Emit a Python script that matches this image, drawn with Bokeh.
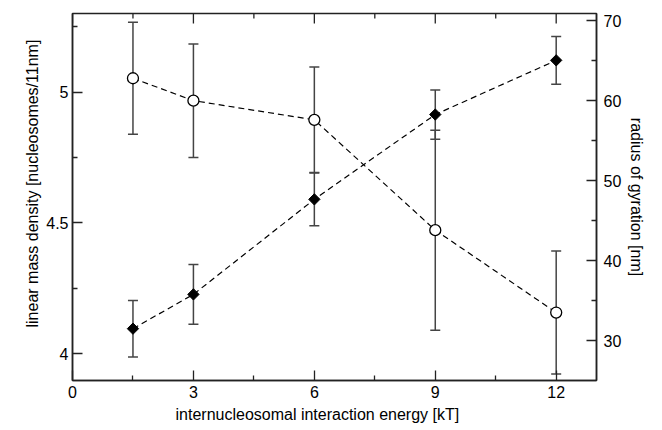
import numpy as np
from bokeh.plotting import figure
from bokeh.models import (LinearAxis, Range1d, ColumnDataSource, Whisker, TeeHead,
                          FixedTicker, Title)
from bokeh.embed import file_html
from bokeh.resources import INLINE

# ---- data ----
energy = [1.5, 3, 6, 9, 12]
density = [4.096, 4.227, 4.590, 4.914, 5.121]
density_err = [0.108, 0.114, 0.101, 0.094, 0.091]
rg = [62.8, 60.0, 57.6, 43.8, 33.5]
rg_err = [7.0, 7.1, 6.6, 12.5, 7.7]

x_ticks = [0, 3, 6, 9, 12]
x_minor = [1.5, 4.5, 7.5, 10.5]
left_ticks = [4, 4.5, 5]
left_minor = [4.25, 4.75, 5.25]
right_ticks = [30, 40, 50, 60, 70]
right_minor = [35, 45, 55, 65]

x_title = "internucleosomal interaction energy [kT]"
left_title = "linear mass density [nucleosomes/11nm]"
right_title = "radius of gyration [nm]"

FONT = "Liberation Sans"
AX = "#222222"

p = figure(width=662, height=430, output_backend="svg", toolbar_location=None,
           x_range=Range1d(0, 13), y_range=Range1d(3.898, 5.30),
           x_axis_location=None, y_axis_location=None)
p.extra_y_ranges = {"right": Range1d(25.0, 70.9), "px": Range1d(0, 367)}
p.min_border_left = 72
p.min_border_right = 66
p.min_border_top = 13
p.min_border_bottom = 50
p.grid.visible = False
p.outline_line_color = AX
p.outline_line_width = 1.5
p.background_fill_color = "white"
p.border_fill_color = "white"


def style(ax, ticks, minor):
    ax.ticker = FixedTicker(ticks=ticks, minor_ticks=minor)
    ax.major_tick_in = 10
    ax.major_tick_out = 0
    ax.minor_tick_in = 5
    ax.minor_tick_out = 0
    ax.axis_line_color = AX
    ax.axis_line_width = 1.5
    ax.major_tick_line_color = AX
    ax.minor_tick_line_color = AX
    ax.major_tick_line_width = 1.3
    ax.minor_tick_line_width = 1.3
    ax.major_label_text_font = FONT
    ax.major_label_text_font_size = "16px"
    ax.major_label_text_color = "black"


bottom = LinearAxis()
style(bottom, x_ticks, x_minor)
bottom.major_label_standoff = 5
p.add_layout(bottom, "below")

left = LinearAxis()
style(left, left_ticks, left_minor)
left.major_label_standoff = 4
left.major_label_overrides = {4: "4", 5: "5"}
p.add_layout(left, "left")

right = LinearAxis(y_range_name="right")
style(right, right_ticks, right_minor)
right.major_label_standoff = 7
p.add_layout(right, "right")

# axis titles (centred on the tick span, as in the reference)
t_kw = dict(text_font=FONT, text_font_size="16px", text_font_style="normal",
            text_color="black")
p.add_layout(Title(text=x_title, align="left", offset=103, standoff=6, **t_kw), "below")
p.add_layout(Title(text=left_title, align="left", offset=53, standoff=6, **t_kw), "left")
p.add_layout(Title(text=right_title, align="center", standoff=6, **t_kw), "right")

# top mirrored ticks (px range: frame height in pixels)
top_x = x_ticks + x_minor
top_len = [10] * len(x_ticks) + [5] * len(x_minor)
p.segment(x0=top_x, x1=top_x, y0=[367] * len(top_x),
          y1=[367 - l for l in top_len], y_range_name="px",
          line_color=AX, line_width=1.3)

# ---- sources ----
d_src = ColumnDataSource(dict(
    x=energy, y=density,
    lo=[v - e for v, e in zip(density, density_err)],
    hi=[v + e for v, e in zip(density, density_err)]))
r_src = ColumnDataSource(dict(
    x=energy, y=rg,
    lo=[v - e for v, e in zip(rg, rg_err)],
    hi=[v + e for v, e in zip(rg, rg_err)]))

err_color = "#444444"
for src, rng in ((d_src, "default"), (r_src, "right")):
    w = Whisker(source=src, base="x", lower="lo", upper="hi",
                y_range_name=rng, level="underlay",
                line_color=err_color, line_width=1.5,
                upper_head=TeeHead(size=10, line_color=err_color, line_width=1.5),
                lower_head=TeeHead(size=10, line_color=err_color, line_width=1.5))
    p.add_layout(w)

# dashed connecting lines
p.line("x", "y", source=d_src, line_color="black", line_width=1.2, line_dash="6 4")
p.line("x", "y", source=r_src, y_range_name="right", line_color="black",
       line_width=1.2, line_dash="6 4")

# markers
p.scatter("x", "y", source=d_src, marker="square", angle=np.pi / 4, size=8,
          fill_color="black", line_color="black", line_width=1)
p.scatter("x", "y", source=r_src, y_range_name="right", marker="circle", size=11,
          fill_color="white", line_color="black", line_width=1.3)

open("out.html", "w").write(file_html(p, INLINE))
